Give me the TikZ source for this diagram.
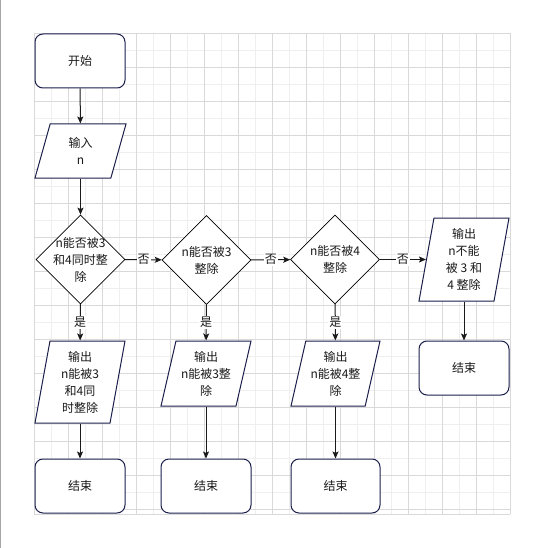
\documentclass[tikz,border=0pt]{standalone}
\usepackage{fontspec}
\setmainfont{Noto Sans CJK SC}
\usetikzlibrary{shapes.geometric,arrows.meta}
\definecolor{boxline}{HTML}{1B1F4B}
\definecolor{gridminor}{HTML}{EFEFEF}
\definecolor{gridmajor}{HTML}{D9D9D9}
\definecolor{txt}{HTML}{1A1A1A}
\tikzset{
  base/.style={fill=white, inner sep=0pt, text=txt},
  term/.style={base, draw=boxline, line width=1pt, rounded corners=8pt,
    minimum width=90pt, minimum height=54pt},
  io/.style={fill=white, text=txt, inner sep=2pt, trapezium, trapezium left angle=76, trapezium right angle=104,
    trapezium stretches=true, draw=boxline, line width=1pt},
  decide/.style={base, diamond, aspect=1, draw=black, line width=0.8pt,
    minimum width=89pt, minimum height=89pt},
  txtin/.style={label={[align=center, text=txt, inner sep=0pt]center:#1}},
  arr/.style={draw=txt, line width=1pt, -{Stealth[length=7pt,width=6pt,inset=1.5pt]}},
  lbl/.style={fill=white, inner sep=1pt, text=txt}
}
\begin{document}
\begin{tikzpicture}[x=1pt, y=-1pt, font=\fontsize{12}{17}\selectfont]
\useasboundingbox (0,0) rectangle (543,548);
\fill[white] (0,0) rectangle (543,548);
% grid
\foreach \i in {1,3,...,27} {
  \draw[gridminor, line width=0.8pt] ({34+17*\i},33) -- ({34+17*\i},514);
  \draw[gridminor, line width=0.8pt] (34,{33+17*\i}) -- (510,{33+17*\i});
}
\foreach \i in {0,2,...,28} {
  \draw[gridmajor, line width=0.8pt] ({34+17*\i},33) -- ({34+17*\i},514);
  \draw[gridmajor, line width=0.8pt] (34,{33+17*\i}) -- (510,{33+17*\i});
}
\draw[gridmajor, line width=0.8pt] (34,514) -- (510,514);
\draw[gray!70, line width=1.2pt] (0.6,0) -- (0.6,548);

% nodes
\node[term, txtin={开始}] (start) at (80,61) {};
\node[io, minimum width=91pt, minimum height=54pt, txtin={输入\\n}] (in) at (80.5,151) {};
\node[decide, txtin={n能否被3\\和4同时整\\除}] (d1) at (80.5,259.5) {};
\node[decide, txtin={n能否被3\\整除}] (d2) at (206.5,260) {};
\node[decide, txtin={n能否被4\\整除}] (d3) at (335,259.5) {};
\node[io, minimum width=90pt, minimum height=83pt, txtin={输出\\n不能\\被 3 和\\4 整除}] (o4) at (464,259.5) {};
\node[io, minimum width=90pt, minimum height=82pt, txtin={输出\\n能被3\\和4同\\时整除}] (o1) at (80,382) {};
\node[io, minimum width=90pt, minimum height=65pt, txtin={输出\\n能被3整\\除}] (o2) at (206,373.5) {};
\node[io, minimum width=89pt, minimum height=65pt, txtin={输出\\n能被4整\\除}] (o3) at (335.5,373.5) {};
\node[term, txtin={结束}] (e1) at (80,486) {};
\node[term, txtin={结束}] (e2) at (206,486) {};
\node[term, minimum width=89pt, txtin={结束}] (e3) at (335.5,486) {};
\node[term, txtin={结束}] (e4) at (464,368) {};

% connectors
\draw[arr] (start) -- (in);
\draw[arr] (in) -- (d1);
\draw[arr] (d1) -- node[lbl]{否} (d2);
\draw[arr] (d2) -- node[lbl]{否} (d3);
\draw[arr] (d3) -- node[lbl]{否} (o4);
\draw[arr] (d1) -- node[lbl]{是} (o1);
\draw[arr] (d2) -- node[lbl]{是} (o2);
\draw[arr] (d3) -- node[lbl]{是} (o3);
\draw[arr] (o1) -- (e1);
\draw[arr] (o2) -- (e2);
\draw[arr] (o3) -- (e3);
\draw[arr] (o4) -- (e4);
\end{tikzpicture}
\end{document}
